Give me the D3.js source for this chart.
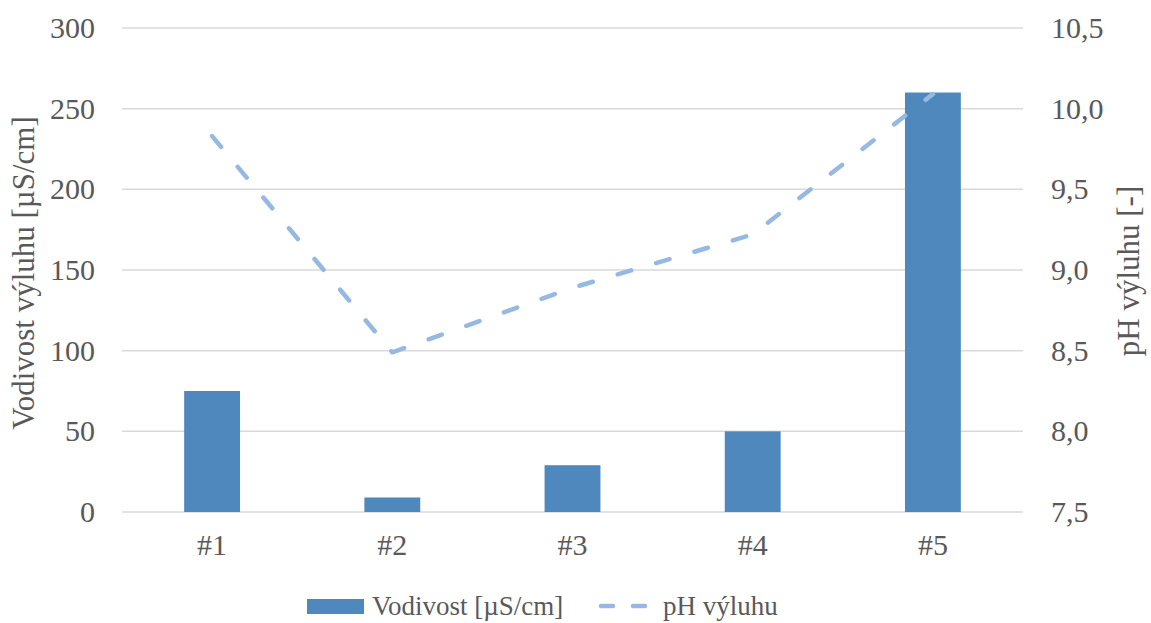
<!DOCTYPE html>
<html>
<head>
<meta charset="utf-8">
<script src="https://cdn.jsdelivr.net/npm/d3@7"></script>
</head>
<body style="margin:0">
<div id="chart"></div>
<script>
// Data
const categories = ['#1', '#2', '#3', '#4', '#5'];
const conductivity = [75, 9, 29, 50, 260];      // Vodivost [µS/cm]
const phValues = [9.83, 8.49, 8.89, 9.22, 10.09]; // pH výluhu
const leftTicks = [0, 50, 100, 150, 200, 250, 300];
const rightTicks = [7.5, 8.0, 8.5, 9.0, 9.5, 10.0, 10.5];

const width = 1151;
const height = 623;
const margin = { top: 28, right: 128, bottom: 111, left: 122 };
const plotW = width - margin.left - margin.right;
const plotH = height - margin.top - margin.bottom;

const fontFamily = 'Liberation Serif';
const textColor = '#595959';
const barColor = '#4e88bc';
const lineColor = '#95b9e1';

const svg = d3.select('#chart')
  .append('svg')
  .attr('width', width)
  .attr('height', height)
  .attr('font-family', fontFamily);

const g = svg.append('g')
  .attr('transform', `translate(${margin.left},${margin.top})`);

// Scales
const x = d3.scaleBand()
  .domain(categories)
  .range([0, plotW])
  .paddingInner(0.69)
  .paddingOuter(0.345);

const xPoint = d => x(d) + x.bandwidth() / 2;

const yLeft = d3.scaleLinear().domain([0, 300]).range([plotH, 0]);
const yRight = d3.scaleLinear().domain([7.5, 10.5]).range([plotH, 0]);

const styleAxisText = sel => {
  sel.attr('font-family', fontFamily).attr('font-size', 30);
  sel.selectAll('text')
    .attr('font-family', fontFamily)
    .attr('font-size', 30)
    .attr('fill', textColor);
};

// Gridlines
g.append('g')
  .selectAll('line')
  .data(leftTicks)
  .enter()
  .append('line')
  .attr('x1', 0)
  .attr('x2', plotW)
  .attr('y1', d => yLeft(d))
  .attr('y2', d => yLeft(d))
  .attr('stroke', '#d9d9d9')
  .attr('stroke-width', 1.5);

// Left axis
const leftAxis = g.append('g')
  .call(d3.axisLeft(yLeft).tickValues(leftTicks).tickSize(0).tickPadding(27));
leftAxis.select('.domain').remove();
styleAxisText(leftAxis);

// Right axis
const fmtComma = d => d3.format('.1f')(d).replace('.', ',');
const rightAxis = g.append('g')
  .attr('transform', `translate(${plotW},0)`)
  .call(d3.axisRight(yRight).tickValues(rightTicks).tickFormat(fmtComma).tickSize(0).tickPadding(28));
rightAxis.select('.domain').remove();
styleAxisText(rightAxis);

// Bottom axis
const bottomAxis = g.append('g')
  .attr('transform', `translate(0,${plotH})`)
  .call(d3.axisBottom(x).tickSize(0).tickPadding(22));
bottomAxis.select('.domain').remove();
styleAxisText(bottomAxis);

// Bars
g.selectAll('.bar')
  .data(categories)
  .enter()
  .append('rect')
  .attr('class', 'bar')
  .attr('x', d => x(d))
  .attr('width', x.bandwidth())
  .attr('y', (d, i) => yLeft(conductivity[i]))
  .attr('height', (d, i) => plotH - yLeft(conductivity[i]))
  .attr('fill', barColor);

// pH line
const line = d3.line()
  .x((d, i) => xPoint(categories[i]))
  .y(d => yRight(d));

g.append('path')
  .datum(phValues)
  .attr('d', line)
  .attr('fill', 'none')
  .attr('stroke', lineColor)
  .attr('stroke-width', 4.5)
  .attr('stroke-linecap', 'round')
  .attr('stroke-linejoin', 'round')
  .attr('stroke-dasharray', '14 26');

// Axis titles
const addText = (parent, str, size) => parent.append('text')
  .attr('font-family', fontFamily)
  .attr('font-size', size)
  .attr('fill', textColor)
  .text(str);

addText(svg, 'Vodivost výluhu [µS/cm]', 31)
  .attr('transform', `translate(34,${margin.top + plotH / 2 + 3}) rotate(-90)`)
  .attr('text-anchor', 'middle');

addText(svg, 'pH výluhu [-]', 31)
  .attr('transform', `translate(1139,${margin.top + plotH / 2 + 1}) rotate(-90)`)
  .attr('text-anchor', 'middle');

// Legend
const legend = svg.append('g').attr('transform', 'translate(0,606)');
legend.append('rect')
  .attr('x', 307)
  .attr('y', -7)
  .attr('width', 57)
  .attr('height', 15)
  .attr('fill', barColor);
addText(legend, 'Vodivost [µS/cm]', 27)
  .attr('x', 372)
  .attr('y', 9);
legend.append('line')
  .attr('x1', 601)
  .attr('x2', 651)
  .attr('y1', 0)
  .attr('y2', 0)
  .attr('stroke', lineColor)
  .attr('stroke-width', 4.5)
  .attr('stroke-linecap', 'round')
  .attr('stroke-dasharray', '12 20');
addText(legend, 'pH výluhu', 27)
  .attr('x', 663)
  .attr('y', 9);
</script>
</body>
</html>
